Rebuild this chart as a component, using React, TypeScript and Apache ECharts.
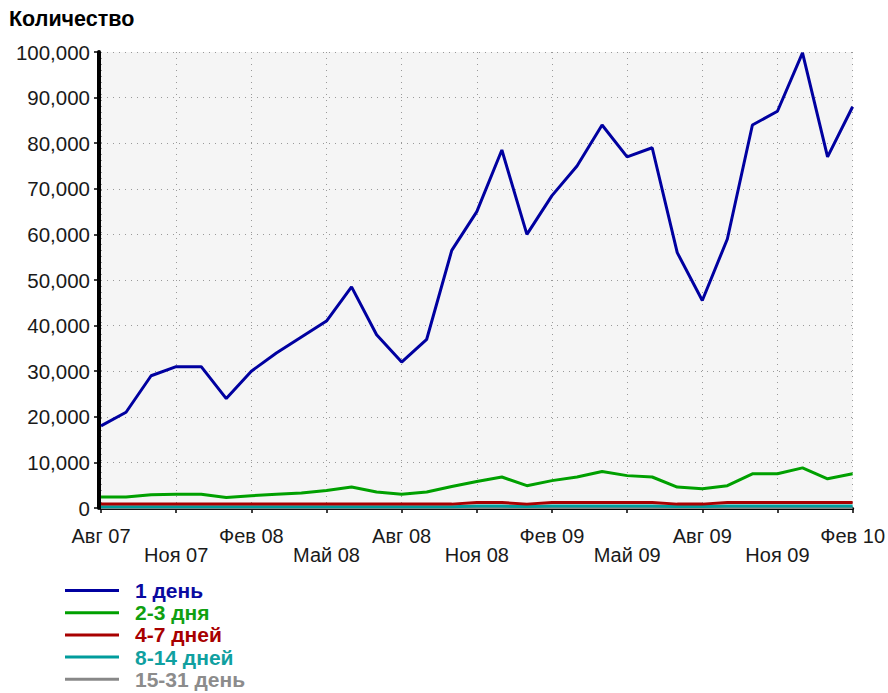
import React, { useEffect, useRef } from "react";
import * as echarts from "echarts";

const months = [
  "Авг 07", "Сен 07", "Окт 07", "Ноя 07", "Дек 07", "Янв 08", "Фев 08", "Мар 08",
  "Апр 08", "Май 08", "Июн 08", "Июл 08", "Авг 08", "Сен 08", "Окт 08", "Ноя 08",
  "Дек 08", "Янв 09", "Фев 09", "Мар 09", "Апр 09", "Май 09", "Июн 09", "Июл 09",
  "Авг 09", "Сен 09", "Окт 09", "Ноя 09", "Дек 09", "Янв 10", "Фев 10",
];

const oneDay = [
  18000, 21000, 29000, 31000, 31000, 24000, 30000, 34000, 37500, 41000, 48500,
  38000, 32000, 37000, 56500, 65000, 78500, 60000, 68500, 75000, 84000, 77000,
  79000, 56000, 45500, 59000, 84000, 87000, 99800, 77000, 88000,
];
const twoThreeDays = [
  2400, 2400, 2900, 3000, 3000, 2300, 2700, 3000, 3300, 3850, 4600, 3500, 3000,
  3500, 4700, 5800, 6800, 4900, 6000, 6800, 8000, 7100, 6800, 4600, 4200, 4900,
  7500, 7500, 8800, 6400, 7500,
];
const fourSevenDays = [
  850, 850, 850, 850, 850, 850, 850, 850, 850, 850, 850, 850, 850, 850, 850,
  1200, 1200, 850, 1200, 1200, 1200, 1200, 1200, 850, 850, 1200, 1200, 1200,
  1200, 1200, 1200,
];
const eightFourteenDays = [
  250, 250, 250, 250, 250, 250, 250, 250, 250, 250, 250, 250, 250, 250, 250,
  420, 420, 320, 420, 420, 420, 420, 420, 320, 320, 420, 420, 420, 420, 420, 420,
];
const fifteenThirtyOne = [
  80, 80, 80, 80, 80, 80, 80, 80, 80, 80, 80, 80, 80, 80, 80, 120, 120, 100, 120,
  120, 120, 120, 120, 100, 100, 120, 120, 120, 120, 120, 120,
];

const seriesNames = ["1 день", "2-3 дня", "4-7 дней", "8-14 дней", "15-31 день"];
const lineColors = ["#0000a0", "#00a000", "#a80000", "#009c9c", "#888888"];
const textColors = ["#0a0aa0", "#10a010", "#a80000", "#10a0a0", "#8c8c8c"];

const FONT = "'Liberation Sans', Arial, Helvetica, sans-serif";

export default function App() {
  const ref = useRef<HTMLDivElement>(null);

  useEffect(() => {
    if (!ref.current) return;
    const chart = echarts.init(ref.current, null, { renderer: "svg" });
    const values = [oneDay, twoThreeDays, fourSevenDays, eightFourteenDays, fifteenThirtyOne];
    const series = values
      .map((d, i) => ({
        name: seriesNames[i],
        type: "line",
        data: d,
        showSymbol: false,
        symbol: "none",
        lineStyle: { width: 3, color: lineColors[i] },
        itemStyle: { color: lineColors[i] },
        z: 10 - i,
      }))
      .reverse();

    chart.setOption({
      animation: false,
      textStyle: { fontFamily: FONT },
      title: {
        text: "Количество",
        left: 9,
        top: 8,
        padding: 0,
        textStyle: { fontSize: 21.5, fontWeight: "bold", color: "#000", fontFamily: FONT },
      },
      legend: {
        orient: "vertical",
        left: 65,
        top: 580,
        height: 113,
        padding: 0,
        icon: "rect",
        itemWidth: 54,
        itemHeight: 3,
        itemGap: 1.2,
        selectedMode: false,
        textStyle: {
          fontSize: 21,
          lineHeight: 20,
          fontWeight: "bold",
          fontFamily: FONT,
          padding: [0, 0, 0, 11],
        },
        data: seriesNames.map((n, i) => ({
          name: n,
          textStyle: { color: textColors[i] },
        })),
      },
      grid: {
        left: 101,
        right: 35,
        top: 52,
        bottom: 185,
        show: true,
        backgroundColor: "#f5f5f5",
        borderWidth: 0,
      },
      xAxis: {
        type: "category",
        data: months,
        boundaryGap: false,
        offset: 2,
        axisLine: { lineStyle: { color: "#000", width: 3 } },
        axisTick: { interval: 2, length: 5, lineStyle: { color: "#000", width: 1.5 } },
        axisLabel: {
          interval: 2,
          margin: 17,
          fontSize: 20,
          lineHeight: 18.5,
          color: "#1a1a1a",
          fontFamily: FONT,
          formatter: (v: string, idx: number) => ((idx / 3) % 2 === 1 ? "\n" + v : v),
        },
        splitLine: {
          show: true,
          interval: 2,
          lineStyle: { color: "#999", width: 1, type: [1, 5] },
        },
      },
      yAxis: {
        type: "value",
        min: 0,
        max: 100000,
        interval: 10000,
        offset: 2,
        axisLine: { show: true, lineStyle: { color: "#000", width: 4 } },
        axisTick: { show: true, length: 5, lineStyle: { color: "#000", width: 1.5 } },
        axisLabel: {
          margin: 9,
          fontSize: 20.5,
          color: "#1a1a1a",
          fontFamily: FONT,
          formatter: (v: number) => v.toLocaleString("en-US"),
        },
        splitLine: {
          show: true,
          lineStyle: { color: "#999", width: 1, type: [1, 5] },
        },
      },
      series,
    });
    return () => chart.dispose();
  }, []);

  return (
    <div
      ref={ref}
      style={{ position: "fixed", left: 0, top: 0, width: 888, height: 693, background: "#fff" }}
    />
  );
}
